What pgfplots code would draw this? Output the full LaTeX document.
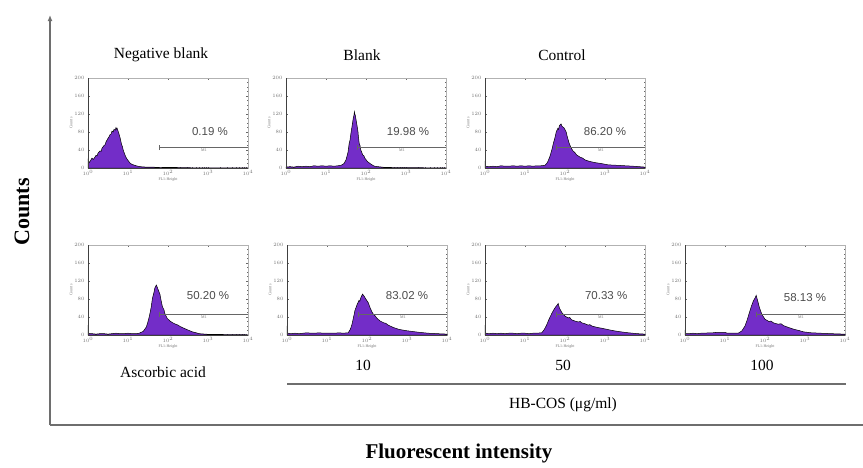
\documentclass[border=0pt]{standalone}
\usepackage{pgfplots}
\pgfplotsset{compat=1.18}
\usetikzlibrary{arrows.meta}
\usepackage{fontspec}
\setmainfont{Liberation Serif}
\newfontfamily\pctfont{Liberation Sans}
\definecolor{histpurple}{RGB}{115,45,200}
\definecolor{framegray}{RGB}{110,110,110}
\newcommand{\tinyfont}{\fontsize{4}{4.5}\selectfont}
\pgfplotsset{
  panel/.style={scale only axis, width=160pt, height=90pt, anchor=south west,
    xmin=0, xmax=4, ymin=0, ymax=200,
    xtick={0,1,2,3,4}, xticklabels={$10^0$,$10^1$,$10^2$,$10^3$,$10^4$},
    ytick={0,40,80,120,160,200},
    minor xtick={0.301,0.477,0.602,0.699,0.778,0.845,0.903,0.954,1.301,1.477,1.602,1.699,1.778,1.845,1.903,1.954,2.301,2.477,2.602,2.699,2.778,2.845,2.903,2.954,3.301,3.477,3.602,3.699,3.778,3.845,3.903,3.954},
    minor y tick num=3,
    tick label style={font=\tinyfont, text=black!55},
    xticklabel style={yshift=1pt},
    xlabel={FL1-Height}, ylabel={Counts},
    label style={font=\tinyfont, text=black!55},
    xlabel style={yshift=5pt}, ylabel style={yshift=-5pt},
    axis line style={black!30},
    major tick length=1.5pt, minor tick length=0.8pt,
    tick style={black!60}, clip=false,
    after end axis/.code={\draw[black!75, line width=0.7pt] (rel axis cs:0,1)--(rel axis cs:0,0)--(rel axis cs:1,0);}
  },
  hist/.style={fill=histpurple, draw=black, line width=0.5pt},
  gate/.style={black!60, line width=0.6pt}
}
\newcommand{\pct}[3]{\node[font=\pctfont\fontsize{11.5}{12}\selectfont, text=black!70] at (axis cs:#1,#2) {#3};}
\newcommand{\gateline}[1]{%
  \addplot[gate] coordinates {(1.78,#1) (4,#1)};
  \addplot[gate] coordinates {(1.78,#1-6) (1.78,#1+6)};
  \node[font=\tinyfont, text=black!55] at (axis cs:2.9,#1-7) {M1};}
\begin{document}
\begin{tikzpicture}[x=1pt,y=1pt]
\path[use as bounding box] (0,0) rectangle (863,467);
% outer frame axis
\begin{axis}[at={(50pt,42pt)}, anchor=south west, scale only axis, width=813pt, height=410pt,
  xmin=0, xmax=1, ymin=0, ymax=1, axis x line*=bottom, axis y line*=left,
  x axis line style={framegray, line width=1.8pt, -},
  y axis line style={framegray, line width=1.8pt, -{Latex[length=6pt,width=5pt]}},
  xtick=\empty, ytick=\empty]
\end{axis}
\node[rotate=90, font=\bfseries\fontsize{22}{24}\selectfont] at (22,255) {Counts};
\node[font=\bfseries\fontsize{21}{24}\selectfont] at (459,14) {Fluorescent intensity};
% titles
\begin{scope}[font=\fontsize{15.5}{17}\selectfont]
\node at (161,412) {Negative blank};
\node at (362,412) {Blank};
\node at (562,412) {Control};
\node at (163,95) {Ascorbic acid};
\node at (363,102) {10};
\node at (563,102) {50};
\node at (762,102) {100};
\node at (563,62) {HB-COS (μg/ml)};
\end{scope}
\draw[framegray, line width=1.2pt] (287,83) -- (846,83);

% ---- top row ----
\begin{axis}[panel, at={(88pt,299pt)}]
\addplot[hist] coordinates {(0,18)(0.03,12)(0.06,16)(0.1,22)(0.13,19)(0.15,21)(0.2,28)(0.23,27)(0.25,33)(0.3,38)(0.33,37)(0.35,44)(0.4,50)(0.43,52)(0.45,58)(0.5,66)(0.53,70)(0.55,74)(0.58,76)(0.6,82)(0.63,80)(0.65,86)(0.68,84)(0.7,90)(0.72,86)(0.73,88)(0.76,80)(0.78,74)(0.8,68)(0.84,52)(0.86,48)(0.88,40)(0.92,30)(0.96,22)(1.0,17)(1.05,11)(1.1,8)(1.2,5)(1.3,3)(1.45,2)(1.6,2)(1.8,1)(2.0,1.5)(2.3,1)(2.6,0.5)(3.0,0.5)(4,0)} \closedcycle;
\gateline{46}
\pct{3.05}{80}{0.19 \%}
\end{axis}

\begin{axis}[panel, at={(286pt,299pt)}]
\addplot[hist] coordinates {(0,2)(0.1,3)(0.2,2)(0.3,4)(0.4,3)(0.5,4)(0.6,3)(0.7,5)(0.8,4)(0.9,5)(1.0,4)(1.1,5)(1.2,4)(1.3,5)(1.38,6)(1.45,10)(1.5,18)(1.55,35)(1.58,55)(1.6,62)(1.62,75)(1.65,92)(1.68,110)(1.7,118)(1.71,125)(1.72,120)(1.73,118)(1.75,108)(1.78,92)(1.8,80)(1.81,70)(1.83,55)(1.85,50)(1.87,40)(1.92,29)(1.95,27)(1.97,22)(2.04,14)(2.1,10)(2.15,7)(2.21,4)(2.3,3)(2.45,1.5)(2.7,1)(3.0,1)(3.5,0.5)(4,0.5)} \closedcycle;
\gateline{46}
\pct{3.05}{80}{19.98 \%}
\end{axis}

\begin{axis}[panel, at={(485pt,299pt)}]
\addplot[hist] coordinates {(0,16)(0.02,4)(0.1,3)(0.2,4)(0.3,3)(0.4,5)(0.5,4)(0.6,4)(0.7,5)(0.8,4)(0.9,5)(1.0,4)(1.1,5)(1.2,4)(1.3,5)(1.4,5)(1.5,6)(1.56,12)(1.62,25)(1.67,40)(1.71,55)(1.75,68)(1.78,80)(1.82,88)(1.84,86)(1.86,94)(1.9,98)(1.93,92)(1.97,90)(2.0,85)(2.03,80)(2.05,72)(2.1,56)(2.15,45)(2.2,38)(2.25,34)(2.29,29)(2.38,24)(2.44,22)(2.5,18)(2.6,15)(2.75,12)(2.9,10)(3.08,7)(3.3,6)(3.5,5)(3.7,4)(3.85,3)(4,2)} \closedcycle;
\gateline{46}
\pct{3.0}{80}{86.20 \%}
\end{axis}

% ---- bottom row ----
\begin{axis}[panel, at={(88pt,132pt)}]
\addplot[hist] coordinates {(0,22)(0.02,3)(0.1,3)(0.2,2)(0.3,3)(0.4,3)(0.5,2)(0.6,3)(0.7,4)(0.8,3)(0.9,3)(1.0,4)(1.1,3)(1.2,3)(1.28,4)(1.38,8)(1.46,18)(1.5,30)(1.54,44)(1.58,62)(1.61,81)(1.65,95)(1.67,104)(1.69,108)(1.71,111)(1.74,104)(1.775,96)(1.8,90)(1.82,80)(1.86,63)(1.9,56)(1.92,48)(1.98,37)(2.05,31)(2.12,27)(2.19,24)(2.25,22)(2.3,19)(2.4,15)(2.5,11)(2.61,7)(2.7,5)(2.78,3)(3.0,1.5)(3.5,1)(4,0.5)} \closedcycle;
\gateline{46}
\pct{3.0}{87}{50.20 \%}
\end{axis}

\begin{axis}[panel, at={(287pt,132pt)}]
\addplot[hist] coordinates {(0,20)(0.02,4)(0.1,3)(0.2,4)(0.3,3)(0.4,4)(0.5,5)(0.6,4)(0.7,4)(0.8,5)(0.9,4)(1.0,4)(1.1,4)(1.2,4)(1.3,5)(1.4,4)(1.53,5)(1.58,12)(1.62,22)(1.66,38)(1.7,55)(1.75,67)(1.8,77)(1.82,75)(1.85,84)(1.89,91)(1.91,88)(1.93,86)(1.97,80)(2.03,72)(2.08,60)(2.12,52)(2.16,46)(2.2,43)(2.25,37)(2.33,31)(2.42,27)(2.47,26)(2.53,22)(2.65,17)(2.78,13)(2.95,10)(3.12,8)(3.3,6)(3.53,4)(3.75,3)(4,2)} \closedcycle;
\gateline{46}
\pct{3.0}{87}{83.02 \%}
\end{axis}

\begin{axis}[panel, at={(485pt,132pt)}]
\addplot[hist] coordinates {(0,22)(0.02,4)(0.1,3)(0.2,4)(0.3,3)(0.4,4)(0.5,3)(0.6,4)(0.7,4)(0.8,3)(0.9,4)(1.0,4)(1.1,3)(1.2,4)(1.3,4)(1.42,5)(1.48,12)(1.54,22)(1.6,35)(1.67,48)(1.72,56)(1.77,63)(1.8,66)(1.83,70)(1.86,60)(1.92,50)(2.0,42)(2.08,38)(2.12,39)(2.16,34)(2.25,31)(2.33,29)(2.38,30)(2.42,27)(2.5,25)(2.58,22)(2.62,23)(2.67,20)(2.8,17)(2.92,15)(3.08,12)(3.25,9)(3.4,7)(3.58,5)(3.8,3)(4,2)} \closedcycle;
\gateline{46}
\pct{3.03}{87}{70.33 \%}
\end{axis}

\begin{axis}[panel, at={(685pt,132pt)}]
\addplot[hist] coordinates {(0,8)(0.02,3)(0.1,3)(0.2,4)(0.3,3)(0.4,4)(0.5,4)(0.6,5)(0.7,5)(0.8,6)(0.9,6)(1.0,6)(1.05,4)(1.15,4)(1.25,4)(1.33,4)(1.42,9)(1.5,20)(1.56,35)(1.61,50)(1.66,64)(1.71,76)(1.75,82)(1.78,88)(1.82,75)(1.86,61)(1.92,46)(2.0,35)(2.1,30)(2.15,31)(2.21,27)(2.33,24)(2.4,25)(2.46,21)(2.58,17)(2.71,13)(2.85,10)(2.96,7)(3.15,5)(3.38,4)(3.65,3)(3.96,2)(4,2)} \closedcycle;
\gateline{46}
\pct{3.0}{84}{58.13 \%}
\end{axis}
\end{tikzpicture}
\end{document}
